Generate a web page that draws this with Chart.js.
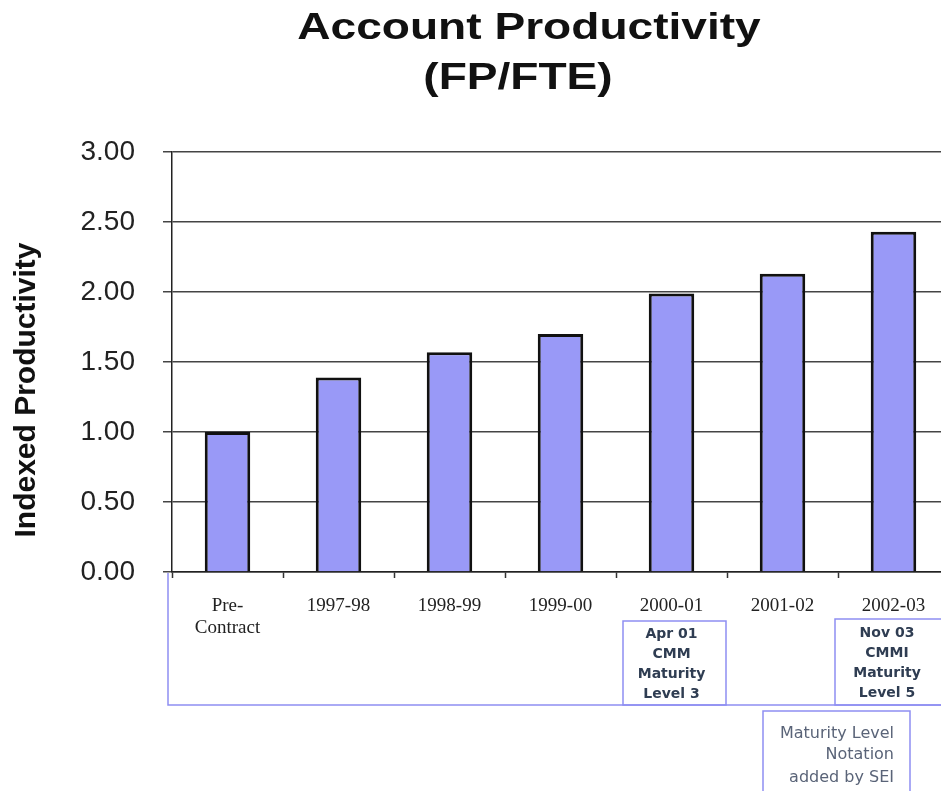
<!DOCTYPE html>
<html>
<head>
<meta charset="utf-8">
<title>Account Productivity</title>
<script src="https://cdn.jsdelivr.net/npm/chart.js@4/dist/chart.umd.min.js"></script>
<style>
  html, body { margin: 0; padding: 0; background: #fff; overflow: hidden; }
  #wrap { width: 950px; height: 791px; position: relative; }
</style>
</head>
<body>
<div id="wrap"><canvas id="productividad"></canvas></div>
<script>
// datos del grafico
var categorias = [["Pre-", "Contract"], "1997-98", "1998-99", "1999-00", "2000-01", "2001-02", "2002-03"];
var productividad = [1.00, 1.39, 1.57, 1.70, 1.99, 2.13, 2.43];
var ticksY = [0, 0.5, 1, 1.5, 2, 2.5, 3];

var titulo = ["Account Productivity", "(FP/FTE)"];
var tituloY = "Indexed Productivity";
var notaAbril = ["Apr 01", "CMM", "Maturity", "Level 3"];
var notaNov = ["Nov 03", "CMMI", "Maturity", "Level 5"];
var notaSEI = ["Maturity Level", "Notation", "added by SEI"];

// textos extra y cajas de notas
var extras = {
  id: "extras",
  afterDraw: function (chart) {
    var ctx = chart.ctx;
    var x = chart.scales.x;
    var area = chart.chartArea;
    ctx.save();

    // titulo (estirado a lo ancho como en la imagen)
    ctx.fillStyle = "#111";
    ctx.font = "bold 36px 'Liberation Sans', Arial, sans-serif";
    ctx.textAlign = "center";
    ctx.textBaseline = "alphabetic";
    var centros = [529, 518];
    var bases = [39, 89];
    titulo.forEach(function (t, i) {
      ctx.save();
      ctx.translate(centros[i], bases[i]);
      ctx.scale(1.28, 1);
      ctx.fillText(t, 0, 0);
      ctx.restore();
    });

    // titulo eje Y
    ctx.save();
    ctx.translate(35, 390);
    ctx.rotate(-Math.PI / 2);
    ctx.font = "bold 30px 'Liberation Sans', Arial, sans-serif";
    ctx.fillStyle = "#111";
    ctx.fillText(tituloY, 0, 0);
    ctx.restore();

    // cajas
    ctx.strokeStyle = "#8e8ef2";
    ctx.lineWidth = 1.5;
    var c4 = x.getPixelForValue(4);
    var c5 = x.getPixelForValue(5);
    var c6 = x.getPixelForValue(6);

    ctx.beginPath();
    ctx.moveTo(x.left - 4, area.bottom + 1);
    ctx.lineTo(x.left - 4, 705);
    ctx.lineTo(chart.width + 5, 705);
    ctx.stroke();

    ctx.strokeRect(c4 - 48.5, 621, 103, 84);
    ctx.strokeRect(c6 - 58.5, 619, 130, 86);
    ctx.strokeRect(c5 - 19.5, 711, 147, 120);

    // textos de las notas
    ctx.fillStyle = "#2f3d52";
    ctx.font = "bold 14px 'DejaVu Sans', Verdana, sans-serif";
    ctx.textAlign = "center";
    var lineas = [638, 658, 678, 698];
    notaAbril.forEach(function (t, i) { ctx.fillText(t, c4, lineas[i]); });
    notaNov.forEach(function (t, i) { ctx.fillText(t, c6 - 6.5, lineas[i] - 1); });

    ctx.fillStyle = "#5a6478";
    ctx.font = "16px 'DejaVu Sans', Verdana, sans-serif";
    ctx.textAlign = "right";
    var lineasSEI = [738, 759, 782];
    notaSEI.forEach(function (t, i) { ctx.fillText(t, c6 + 0.5, lineasSEI[i]); });

    ctx.restore();
  }
};

var ctx1 = document.getElementById("productividad").getContext("2d");
var grafico = new Chart(ctx1, {
  type: "bar",
  data: {
    labels: categorias,
    datasets: [
      {
        label: "Indexed Productivity",
        data: productividad,
        backgroundColor: "#9999f7",
        borderColor: "#111",
        borderWidth: 3,
        barPercentage: 0.41,
        categoryPercentage: 1,
      },
    ],
  },
  options: {
    responsive: true,
    maintainAspectRatio: false,
    animation: false,
    layout: { padding: { top: 152, right: 1, left: 0, bottom: 0 } },
    plugins: {
      legend: { display: false },
      tooltip: { enabled: false },
    },
    scales: {
      x: {
        offset: true,
        grid: {
          offset: true,
          drawOnChartArea: false,
          drawTicks: true,
          tickLength: 6,
          tickColor: "#333",
          tickWidth: 1.5,
        },
        border: { color: "#222", width: 1.5 },
        ticks: {
          font: { family: "'Liberation Serif', 'Times New Roman', serif", size: 19, lineHeight: 1.15 },
          color: "#222",
          padding: 17,
          maxRotation: 0,
          autoSkip: false,
        },
        afterFit: function (scale) { scale.height = 219; },
      },
      y: {
        min: 0,
        max: 3,
        afterBuildTicks: function (scale) {
          scale.ticks = ticksY.map(function (v) { return { value: v }; });
        },
        grid: {
          color: "#444",
          lineWidth: 1.5,
          tickLength: 9,
        },
        border: { color: "#222", width: 1.5 },
        ticks: {
          font: { family: "'Liberation Sans', Arial, sans-serif", size: 28 },
          color: "#222",
          padding: 28,
          callback: function (v) { return Number(v).toFixed(2); },
        },
        afterFit: function (scale) { scale.width = 172; },
      },
    },
  },
  plugins: [extras],
});
</script>
</body>
</html>
